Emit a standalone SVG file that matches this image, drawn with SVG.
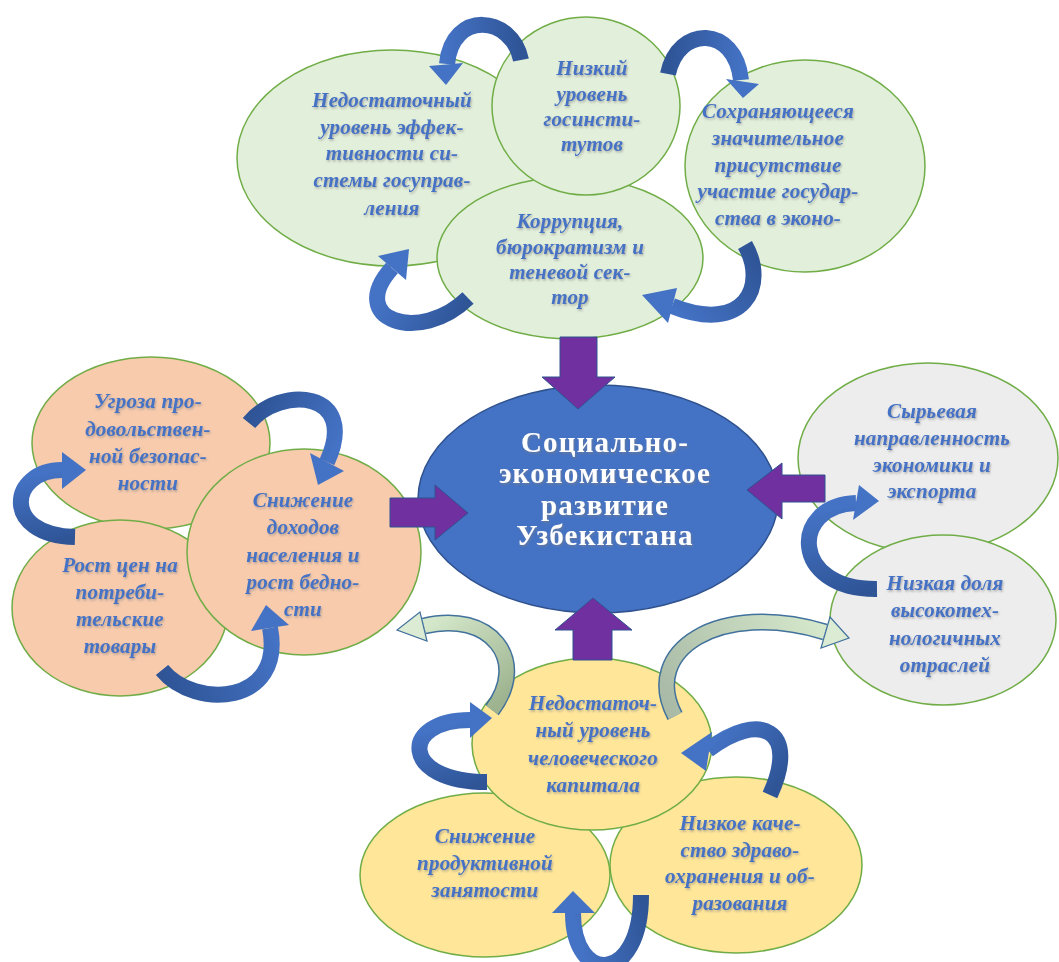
<svg xmlns="http://www.w3.org/2000/svg" width="1059" height="962" viewBox="0 0 1059 962">
<defs>
<filter id="sh" x="-10%" y="-10%" width="120%" height="130%">
<feDropShadow dx="1" dy="1.5" stdDeviation="0.8" flood-color="#7f7f7f" flood-opacity="0.6"/>
</filter>
<linearGradient id="gA" gradientUnits="userSpaceOnUse" x1="521" y1="60" x2="447" y2="64"><stop offset="0" stop-color="#2F5597"/><stop offset="1" stop-color="#4472C4"/></linearGradient>
<linearGradient id="gB" gradientUnits="userSpaceOnUse" x1="668" y1="74" x2="741" y2="80"><stop offset="0" stop-color="#2F5597"/><stop offset="1" stop-color="#4472C4"/></linearGradient>
<linearGradient id="gC" gradientUnits="userSpaceOnUse" x1="745" y1="245" x2="672" y2="306"><stop offset="0" stop-color="#2F5597"/><stop offset="1" stop-color="#4472C4"/></linearGradient>
<linearGradient id="gD" gradientUnits="userSpaceOnUse" x1="468" y1="298" x2="392" y2="268"><stop offset="0" stop-color="#2F5597"/><stop offset="1" stop-color="#4472C4"/></linearGradient>
<linearGradient id="gE" gradientUnits="userSpaceOnUse" x1="249" y1="423" x2="327" y2="462"><stop offset="0" stop-color="#2F5597"/><stop offset="1" stop-color="#4472C4"/></linearGradient>
<linearGradient id="gF" gradientUnits="userSpaceOnUse" x1="75" y1="537" x2="62" y2="470"><stop offset="0" stop-color="#2F5597"/><stop offset="1" stop-color="#4472C4"/></linearGradient>
<linearGradient id="gG" gradientUnits="userSpaceOnUse" x1="162" y1="670" x2="270" y2="628"><stop offset="0" stop-color="#2F5597"/><stop offset="1" stop-color="#4472C4"/></linearGradient>
<linearGradient id="gH" gradientUnits="userSpaceOnUse" x1="877" y1="589" x2="856" y2="503"><stop offset="0" stop-color="#2F5597"/><stop offset="1" stop-color="#4472C4"/></linearGradient>
<linearGradient id="gK" gradientUnits="userSpaceOnUse" x1="487" y1="782" x2="470" y2="720"><stop offset="0" stop-color="#2F5597"/><stop offset="1" stop-color="#4472C4"/></linearGradient>
<linearGradient id="gL" gradientUnits="userSpaceOnUse" x1="770" y1="795" x2="708" y2="750"><stop offset="0" stop-color="#2F5597"/><stop offset="1" stop-color="#4472C4"/></linearGradient>
<linearGradient id="gM" gradientUnits="userSpaceOnUse" x1="641" y1="895" x2="573" y2="913"><stop offset="0" stop-color="#2F5597"/><stop offset="1" stop-color="#4472C4"/></linearGradient>
<linearGradient id="gI" gradientUnits="userSpaceOnUse" x1="492" y1="710" x2="424" y2="626"><stop offset="0" stop-color="#9DB38F"/><stop offset="1" stop-color="#D5E8CB"/></linearGradient>
<linearGradient id="gJ" gradientUnits="userSpaceOnUse" x1="675" y1="716" x2="825" y2="632"><stop offset="0" stop-color="#A9BBA6"/><stop offset="1" stop-color="#D5E8CB"/></linearGradient>
<style>
.g{fill:#E2EFDA;stroke:#70AD47;stroke-width:1.5}
.p{fill:#F8CBAD;stroke:#70AD47;stroke-width:1.5}
.s{fill:#EDEDED;stroke:#70AD47;stroke-width:1.5}
.y{fill:#FFE699;stroke:#70AD47;stroke-width:1.5}
.t{font-family:"Liberation Serif","DejaVu Serif",serif;font-style:italic;font-weight:bold;font-size:21px;fill:#4472C4;text-anchor:middle;letter-spacing:0.2px}
.c{font-family:"Liberation Serif","DejaVu Serif",serif;font-weight:bold;font-size:29px;fill:#FFFFFF;text-anchor:middle;letter-spacing:1.2px}
.pu{fill:#7030A0;stroke:#2F528F;stroke-width:1}
.cb{fill:none;stroke-width:16}
.ch{fill:#4472C4}
.lo{fill:none;stroke:#41719C;stroke-width:17}
.li{fill:none;stroke-width:14}
.lh{fill:#DCEBD3;stroke:#41719C;stroke-width:1.2}
</style>
</defs>
<rect width="1059" height="962" fill="#FFFFFF"/>

<g id="top-cluster">
<g id="n-gosupr"><ellipse class="g" cx="392" cy="158" rx="155" ry="108"/></g>
<g id="n-gosuch"><ellipse class="g" cx="805" cy="166" rx="120" ry="106"/></g>
<g id="n-korr"><ellipse class="g" cx="570" cy="258" rx="133" ry="81"/></g>
<g id="n-gosinst"><ellipse class="g" cx="586" cy="106" rx="94" ry="89"/></g>
</g>

<g id="left-cluster">
<g id="n-ugroza"><ellipse class="p" cx="151" cy="443" rx="119" ry="86"/></g>
<g id="n-rost"><ellipse class="p" cx="120" cy="608" rx="108" ry="88"/></g>
<g id="n-snizh"><ellipse class="p" cx="304" cy="552" rx="117" ry="103"/></g>
</g>

<g id="right-cluster">
<g id="n-syr"><ellipse class="s" cx="928" cy="458" rx="130" ry="95"/></g>
<g id="n-nizk"><ellipse class="s" cx="943" cy="620" rx="113" ry="85"/></g>
</g>

<g id="bottom-cluster">
<g id="n-zan"><ellipse class="y" cx="485" cy="875" rx="125" ry="82"/></g>
<g id="n-zdrav"><ellipse class="y" cx="736" cy="865" rx="126" ry="88"/></g>
<g id="n-chel"><ellipse class="y" cx="592" cy="744" rx="120" ry="86"/></g>
</g>

<g id="center"><ellipse cx="598" cy="499" rx="180" ry="114" fill="#4472C4" stroke="#2F528F" stroke-width="1.5"/></g>

<g id="connectors">
<polygon class="pu" points="560,337 597,337 597,377 615,377 578,409 542,377 560,377"/>
<polygon class="pu" points="390,498 435,498 435,485 468,513 435,540 435,527 390,527"/>
<polygon class="pu" points="825,475 782,475 782,463 747,490 782,519 782,502 825,502"/>
<polygon class="pu" points="573,660 573,630 555,630 593,598 632,630 612,630 612,660"/>

<path class="cb" stroke="url(#gA)" d="M521 60 C512 15 452 10 447 64"/>
<polygon class="ch" points="429,66 463,63 446,85"/>
<path class="cb" stroke="url(#gB)" d="M668 74 C678 25 735 25 741 80"/>
<polygon class="ch" points="726,79 759,84 743,98"/>
<path class="cb" stroke="url(#gC)" d="M745 245 C768 285 745 335 672 306"/>
<polygon class="ch" points="677,288 668,323 642,295"/>
<path class="cb" stroke="url(#gD)" d="M468 298 C420 345 345 320 392 268"/>
<polygon class="ch" points="378,256 406,280 409,249"/>

<path class="cb" stroke="url(#gE)" d="M249 423 C280 385 360 390 327 462"/>
<polygon class="ch" points="344,471 310,453 318,485"/>
<path class="cb" stroke="url(#gF)" d="M75 537 C0 535 10 470 62 470"/>
<polygon class="ch" points="62,452 62,489 86,470"/>
<path class="cb" stroke="url(#gG)" d="M162 670 C195 710 285 705 270 628"/>
<polygon class="ch" points="289,625 251,631 266,605"/>

<path class="cb" stroke="url(#gH)" d="M877 589 C790 590 790 505 856 503"/>
<polygon class="ch" points="859,485 853,520 879,501"/>

<path class="lo" d="M492 710 C530 660 490 610 424 626"/>
<path class="li" stroke="url(#gI)" d="M492 710 C530 660 490 610 424 626"/>
<polygon class="lh" points="427,641 420,612 397,630"/>
<path class="lo" d="M675 716 C640 650 720 600 825 632"/>
<path class="li" stroke="url(#gJ)" d="M675 716 C640 650 720 600 825 632"/>
<polygon class="lh" points="821,648 830,617 849,638"/>

<path class="cb" stroke="url(#gK)" d="M487 782 C400 782 400 720 470 720"/>
<polygon class="ch" points="470,702 470,738 492,718"/>
<path class="cb" stroke="url(#gL)" d="M770 795 C800 730 760 710 708 750"/>
<polygon class="ch" points="712,732 706,771 681,753"/>
<path class="cb" stroke="url(#gM)" d="M641 895 C641 985 573 985 573 913"/>
<polygon class="ch" points="552,913 595,913 573,891"/>
</g>

<g id="labels" filter="url(#sh)">
<text class="t"><tspan x="392" y="107">Недостаточный</tspan><tspan x="392" y="134">уровень эффек-</tspan><tspan x="392" y="160">тивности си-</tspan><tspan x="392" y="187">стемы госуправ-</tspan><tspan x="392" y="215">ления</tspan></text>
<text class="t"><tspan x="592" y="75">Низкий</tspan><tspan x="592" y="101">уровень</tspan><tspan x="592" y="126">госинсти-</tspan><tspan x="592" y="151">тутов</tspan></text>
<text class="t"><tspan x="778" y="118">Сохраняющееся</tspan><tspan x="778" y="145">значительное</tspan><tspan x="778" y="172">присутствие</tspan><tspan x="778" y="198">участие государ-</tspan><tspan x="778" y="225">ства в эконо-</tspan></text>
<text class="t"><tspan x="570" y="228">Коррупция,</tspan><tspan x="570" y="254">бюрократизм и</tspan><tspan x="570" y="279">теневой сек-</tspan><tspan x="570" y="304">тор</tspan></text>

<text class="t"><tspan x="148" y="408">Угроза про-</tspan><tspan x="148" y="436">довольствен-</tspan><tspan x="148" y="463">ной безопас-</tspan><tspan x="148" y="490">ности</tspan></text>
<text class="t"><tspan x="120" y="572">Рост цен на</tspan><tspan x="120" y="599">потреби-</tspan><tspan x="120" y="626">тельские</tspan><tspan x="120" y="653">товары</tspan></text>
<text class="t"><tspan x="303" y="507">Снижение</tspan><tspan x="303" y="534">доходов</tspan><tspan x="303" y="562">населения и</tspan><tspan x="303" y="589">рост бедно-</tspan><tspan x="303" y="616">сти</tspan></text>

<text class="t"><tspan x="932" y="418">Сырьевая</tspan><tspan x="932" y="445">направленность</tspan><tspan x="932" y="472">экономики и</tspan><tspan x="932" y="498">экспорта</tspan></text>
<text class="t"><tspan x="945" y="590">Низкая доля</tspan><tspan x="945" y="617">высокотех-</tspan><tspan x="945" y="645">нологичных</tspan><tspan x="945" y="672">отраслей</tspan></text>

<text class="t"><tspan x="593" y="710">Недостаточ-</tspan><tspan x="593" y="737">ный уровень</tspan><tspan x="593" y="765">человеческого</tspan><tspan x="593" y="792">капитала</tspan></text>
<text class="t"><tspan x="485" y="843">Снижение</tspan><tspan x="485" y="870">продуктивной</tspan><tspan x="485" y="897">занятости</tspan></text>
<text class="t"><tspan x="740" y="830">Низкое каче-</tspan><tspan x="740" y="857">ство здраво-</tspan><tspan x="740" y="883">охранения и об-</tspan><tspan x="740" y="910">разования</tspan></text>

<text class="c"><tspan x="605" y="452">Социально-</tspan><tspan x="605" y="483">экономическое</tspan><tspan x="605" y="515">развитие</tspan><tspan x="605" y="545">Узбекистана</tspan></text>
</g>
</svg>
